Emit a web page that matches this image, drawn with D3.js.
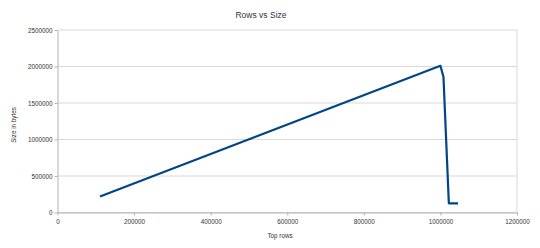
<!DOCTYPE html>
<html>
<head>
<meta charset="utf-8">
<script src="https://cdn.jsdelivr.net/npm/d3@7"></script>
<style>
  body { margin: 0; background: #fff; }
  text { font-family: "Liberation Sans", Arial, sans-serif; fill: #333; }
</style>
</head>
<body>
<svg id="chart"></svg>
<script>
// rows vs size
var rows  = [111000, 1000000, 1008000, 1022000, 1046000]
var sizes = [219000, 2010000, 1855000, 126000, 126000]
var xTicks = [0, 200000, 400000, 600000, 800000, 1000000, 1200000]
var yTicks = [0, 500000, 1000000, 1500000, 2000000, 2500000]

var screen = {width: 540, height: 248}
var margin = {left: 57.5, right: 23, top: 30, bottom: 35.5}

var svg = d3.select("#chart")
  .attr("width", screen.width)
  .attr("height", screen.height)

var x = d3.scaleLinear().domain([0, 1200000]).range([margin.left, screen.width - margin.right])
var y = d3.scaleLinear().domain([0, 2500000]).range([screen.height - margin.bottom, margin.top])

// horizontal grid lines
svg.append("g").selectAll("line").data(yTicks).enter().append("line")
  .attr("x1", x(0)).attr("x2", x(1200000))
  .attr("y1", function(d){ return y(d) }).attr("y2", function(d){ return y(d) })
  .attr("stroke", "#d9d9d9").attr("stroke-width", 1)

// right border of plot area
svg.append("line")
  .attr("x1", x(1200000)).attr("x2", x(1200000))
  .attr("y1", y(0)).attr("y2", y(2500000))
  .attr("stroke", "#d9d9d9").attr("stroke-width", 1)

// axes
var xAxis = d3.axisBottom(x).tickValues(xTicks).tickFormat(d3.format("d")).tickSize(3).tickSizeOuter(0)
var yAxis = d3.axisLeft(y).tickValues(yTicks).tickFormat(d3.format("d")).tickSize(3).tickSizeOuter(0)

var gx = svg.append("g").attr("transform", "translate(0," + y(0) + ")").call(xAxis)
var gy = svg.append("g").attr("transform", "translate(" + x(0) + ",0)").call(yAxis)

;[gx, gy].forEach(function(g){
  g.selectAll(".domain").attr("stroke", "#b3b3b3")
  g.selectAll(".tick line").attr("stroke", "#b3b3b3")
  g.selectAll(".tick text").attr("font-size", 6.3).attr("fill", "#333")
    .attr("font-family", "Liberation Sans, Arial, sans-serif")
})
gx.selectAll(".tick text").attr("dy", "0.9em")
gy.selectAll(".tick text").attr("x", -5)

// the line
var line = d3.line()
  .x(function(d, i){ return x(rows[i]) })
  .y(function(d){ return y(d) })

svg.append("path")
  .datum(sizes)
  .attr("d", line)
  .attr("fill", "none")
  .attr("stroke", "#004586")
  .attr("stroke-width", 2.2)
  .attr("stroke-linejoin", "round")

// titles
svg.append("text")
  .attr("x", 261).attr("y", 18)
  .attr("text-anchor", "middle")
  .attr("font-size", 8.5)
  .text("Rows vs Size")

svg.append("text")
  .attr("x", 280).attr("y", 237.5)
  .attr("text-anchor", "middle")
  .attr("font-size", 6.3)
  .text("Top rows")

svg.append("text")
  .attr("transform", "translate(16,125) rotate(-90)")
  .attr("text-anchor", "middle")
  .attr("font-size", 6.3)
  .text("Size in bytes")
</script>
</body>
</html>
